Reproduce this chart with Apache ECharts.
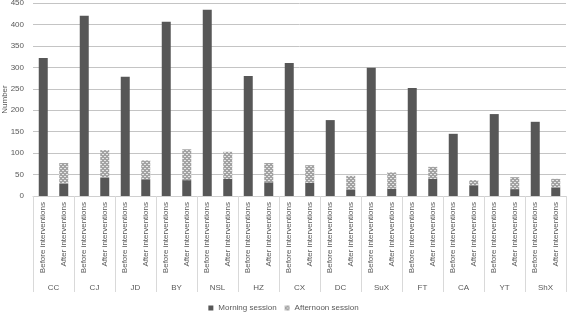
<!DOCTYPE html>
<html>
<head>
<meta charset="utf-8">
<script src="https://cdn.jsdelivr.net/npm/echarts@6/dist/echarts.min.js"></script>
<style>
  html, body { margin: 0; padding: 0; background: #fff; }
  #chart { width: 567px; height: 312px; }
</style>
</head>
<body>
<div id="chart"></div>
<script>
const groups = ['CC', 'CJ', 'JD', 'BY', 'NSL', 'HZ', 'CX', 'DC', 'SuX', 'FT', 'CA', 'YT', 'ShX']
const phases = ['Before interventions', 'After interventions']
const beforeMorning = [322, 420, 278, 406, 434, 280, 310, 177, 299, 252, 145, 191, 173]
const afterMorning = [28, 42, 39, 37, 40, 32, 31, 14, 17, 40, 25, 16, 20]
const afterAfternoon = [49, 65, 44, 72, 63, 45, 41, 33, 38, 28, 12, 28, 20]

// one category per bar: before / after for each site
const categories = []
const morning = []
const afternoon = []
groups.forEach((g, i) => {
  categories.push(phases[0], phases[1])
  morning.push(beforeMorning[i], afterMorning[i])
  afternoon.push('-', afterAfternoon[i])
})

// dotted fill for the afternoon bars
const tile = document.createElement('canvas')
tile.width = 4
tile.height = 4
const ctx = tile.getContext('2d')
ctx.fillStyle = '#a3a3a3'
ctx.fillRect(0, 0, 4, 4)
ctx.fillStyle = '#e6e6e6'
ctx.fillRect(0, 0, 2, 1)
ctx.fillRect(2, 2, 2, 1)

const textColor = '#595959'
const font = 'Liberation Sans'
const chart = echarts.init(document.getElementById('chart'))

chart.setOption({
  animation: false,
  grid: { left: 33, right: 1, top: 3, bottom: 116, containLabel: false, outerBoundsMode: 'none' },
  legend: {
    bottom: 0,
    left: 'center',
    padding: 0,
    itemWidth: 5,
    itemHeight: 5,
    itemGap: 8,
    textStyle: { color: textColor, fontSize: 8, fontFamily: font },
    data: [
      { name: 'Morning session', icon: 'rect' },
      { name: 'Afternoon session', icon: 'rect' },
    ],
  },
  xAxis: [
    {
      type: 'category',
      data: categories,
      axisLine: { lineStyle: { color: '#d0d0d0' } },
      axisTick: { show: false },
      axisLabel: {
        interval: 0,
        rotate: 90,
        margin: 6,
        color: textColor,
        fontSize: 8,
        fontFamily: font,
      },
    },
    {
      type: 'category',
      position: 'bottom',
      data: groups,
      axisLine: { show: false },
      axisTick: { show: true, length: 96, lineStyle: { color: '#d9d9d9' } },
      axisLabel: {
        interval: 0,
        margin: 88,
        color: textColor,
        fontSize: 8,
        fontFamily: font,
      },
    },
  ],
  yAxis: {
    type: 'value',
    min: 0,
    max: 450,
    interval: 50,
    name: 'Number',
    nameLocation: 'middle',
    nameGap: 24,
    nameRotate: 90,
    nameMoveOverlap: false,
    nameTextStyle: { color: textColor, fontSize: 8, fontFamily: font },
    axisLine: { show: false },
    axisTick: { show: false },
    axisLabel: { color: textColor, fontSize: 8, margin: 9, fontFamily: font },
    splitLine: { lineStyle: { color: '#c4c4c4' } },
  },
  series: [
    {
      name: 'Morning session',
      type: 'bar',
      stack: 'total',
      barWidth: 9,
      data: morning,
      itemStyle: { color: '#575757' },
    },
    {
      name: 'Afternoon session',
      type: 'bar',
      stack: 'total',
      barWidth: 9,
      data: afternoon,
      itemStyle: { color: { image: tile, repeat: 'repeat' } },
    },
  ],
})
</script>
</body>
</html>
